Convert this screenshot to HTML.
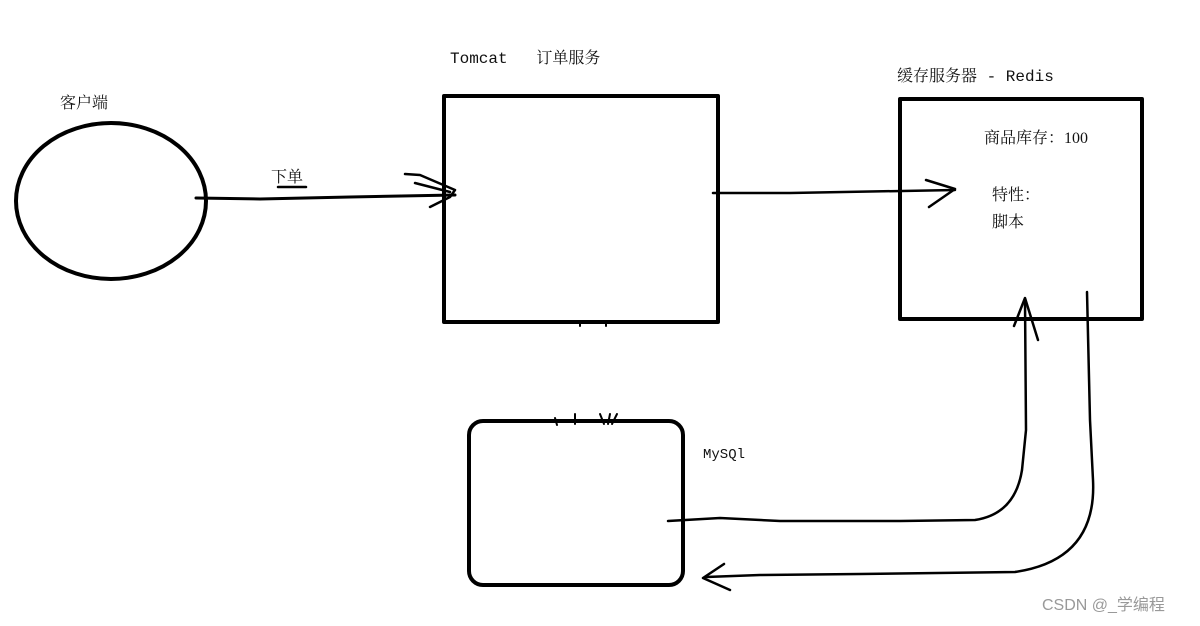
<!DOCTYPE html>
<html><head><meta charset="utf-8"><style>
body{margin:0;background:#fff;width:1200px;height:626px;overflow:hidden;position:relative;font-family:"Liberation Serif","Noto Serif CJK SC",serif;}
.t{position:absolute;color:#111;font-size:16px;white-space:nowrap;line-height:1}
</style></head><body>
<svg width="1200" height="626" style="position:absolute;left:0;top:0" fill="none" stroke="#000" stroke-linecap="round" stroke-linejoin="round">
<ellipse cx="111" cy="201" rx="95" ry="78" stroke-width="4"/>
<rect x="444" y="96" width="274" height="226" stroke-width="4"/>
<rect x="900" y="99" width="242" height="220" stroke-width="4"/>
<rect x="469" y="421" width="214" height="164" rx="14" stroke-width="4"/>
<path d="M196 198 L260 199 L350 197 L455 195" stroke-width="3"/>
<path d="M405 174 L420 175 L455 190 L450 197 L430 207 M415 183 L450 192" stroke-width="2.5"/>
<path d="M278 187 L306 187" stroke-width="2.5"/>
<path d="M713 193 L790 193 L955 190" stroke-width="2.5"/>
<path d="M926 180 L955 189 L929 207" stroke-width="2.5"/>
<path d="M668 521 L720 518 L780 521 L900 521 L975 520 Q1015 514 1022 470 L1026 430 L1025 300" stroke-width="2.5"/>
<path d="M1014 326 L1025 298 L1038 340" stroke-width="2.5"/>
<path d="M1087 292 L1090 420 L1093 480 Q1097 560 1015 572 L860 574 L760 575 L706 577" stroke-width="2.5"/>
<path d="M724 564 L703 578 L730 590" stroke-width="2.5"/>
<path d="M555 418 L557 425 M575 414 L575 424 M600 414 L604 424 M610 414 L608 424 M617 414 L612 424" stroke-width="2"/>
<path d="M580 322 L580 326 M606 322 L606 326" stroke-width="2"/>
</svg>
<div class="t" style="left:60px;top:96px">客户端</div>
<div class="t" style="left:271px;top:170px">下单</div>
<div class="t" style="left:450px;top:51px;font-family:'Liberation Mono','Noto Serif CJK SC',monospace">Tomcat&nbsp;&nbsp;&nbsp;订单服务</div>
<div class="t" style="left:897px;top:69px;font-family:'Liberation Mono','Noto Serif CJK SC',monospace">缓存服务器 - Redis</div>
<div class="t" style="left:984px;top:131px">商品库存：100</div>
<div class="t" style="left:992px;top:188px">特性：</div>
<div class="t" style="left:992px;top:215px">脚本</div>
<div class="t" style="left:703px;top:448px;font-size:14px;font-family:'Liberation Mono',monospace">MySQl</div>
<div class="t" style="left:1042px;top:598px;color:#999;font-size:16px;font-family:'Liberation Sans','Noto Sans CJK SC',sans-serif">CSDN @_学编程</div>
</body></html>
